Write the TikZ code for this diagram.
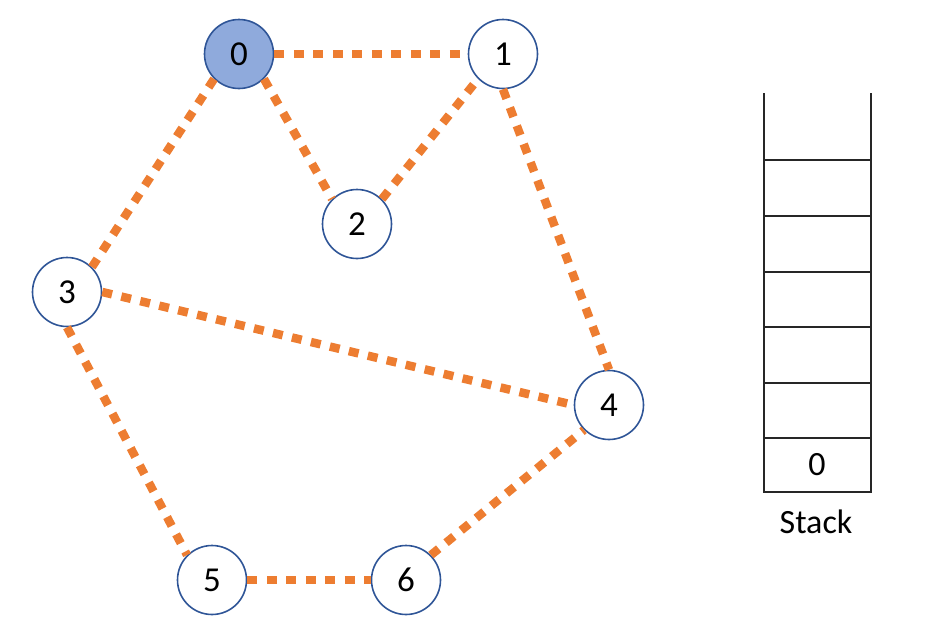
\documentclass[tikz,border=0pt]{standalone}
\usepackage{fontspec}
\setmainfont{Carlito}
\definecolor{edgeor}{HTML}{ED7D31}
\definecolor{nodebd}{HTML}{2F5597}
\definecolor{nodefl}{HTML}{8FAADC}
\begin{document}
\begin{tikzpicture}[x=1pt,y=-1pt,
  vert/.style={circle,draw=nodebd,line width=1.6pt,fill=white,minimum size=69pt,inner sep=0pt,font=\fontsize{35}{40}\selectfont},
  visited/.style={vert,fill=nodefl},
  edge/.style={draw=edgeor,line width=8.5pt,dash pattern=on 10pt off 9.5pt},
  stackline/.style={draw=black!85,line width=1.5pt},
  lbl/.style={font=\fontsize{34}{40}\selectfont,inner sep=0pt}]
\useasboundingbox (0,0) rectangle (940,632);
\node[visited] (n0) at (239,54) {0};
\node[vert] (n1) at (503,54) {1};
\node[vert] (n2) at (357,224) {2};
\node[vert] (n3) at (67,292) {3};
\node[vert] (n4) at (609,405) {4};
\node[vert] (n5) at (212,580) {5};
\node[vert] (n6) at (406,580) {6};
\path[edge] (n0.east) -- (n1.west);
\path[edge] (n0.south east) -- (n2.north west);
\path[edge] (n2.north east) -- (n1.south west);
\path[edge] (n0.south west) -- (n3.north east);
\path[edge] (n1.south) -- (n4.north);
\path[edge] (n3.east) -- (n4.west);
\path[edge] (n3.south) -- (n5.north west);
\path[edge] (n5.east) -- (n6.west);
\path[edge] (n6.north east) -- (n4.south west);
% stack
\draw[stackline] (764,93) -- (764,492) -- (871,492) -- (871,93);
\foreach \yy in {160,216,272,327,383,438}
  \draw[stackline] (764,\yy) -- (871,\yy);
\node[lbl] (s0) at (817,465) {0};
\node[lbl] (stk) at (816,522) {Stack};
\end{tikzpicture}
\end{document}
